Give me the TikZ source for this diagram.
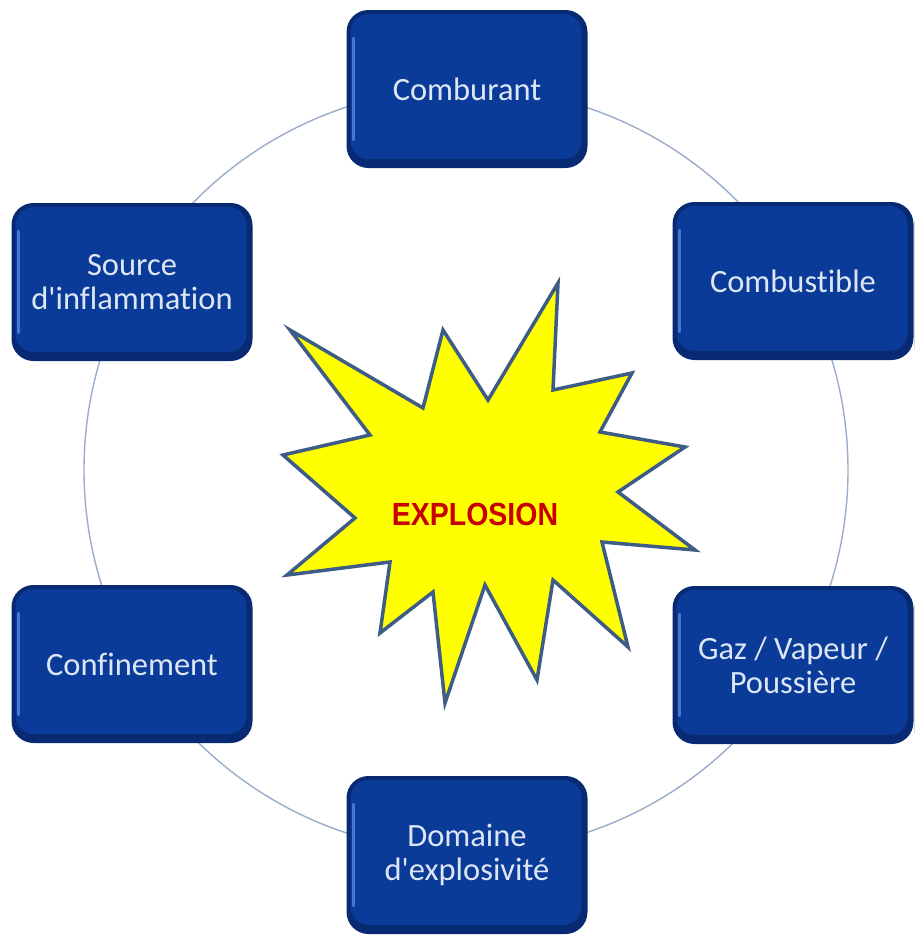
\documentclass[tikz,border=0pt]{standalone}
\usepackage{fontspec}
\usepackage{graphicx}
\usetikzlibrary{backgrounds}
\newfontfamily\boxfont[Ligatures=NoCommon]{Carlito}
\newfontfamily\expfont{Liberation Sans}
\definecolor{boxrim}{HTML}{072A72}
\definecolor{boxblue}{HTML}{0B3B98}
\definecolor{boxhi}{HTML}{4777CC}
\definecolor{boxtext}{HTML}{DCE6F4}
\definecolor{ringcol}{HTML}{9AADCB}
\definecolor{starline}{HTML}{3D5C86}
\definecolor{starfill}{HTML}{FFFF00}
\definecolor{exred}{HTML}{C80000}
\tikzset{
  boxnode/.style={rectangle, rounded corners=22pt, minimum width=241pt, minimum height=158pt,
    fill=boxrim, text=boxtext, align=center, inner sep=0pt,
    font=\boxfont\fontsize{32.5}{34}\selectfont,
    path picture={
      \fill[boxblue, rounded corners=18pt]
        ([shift={(4pt,-4pt)}]path picture bounding box.north west) rectangle
        ([shift={(-6pt,9pt)}]path picture bounding box.south east);
      \draw[boxhi, line width=2.2pt, line cap=round]
        ([shift={(7pt,-28pt)}]path picture bounding box.north west) --
        ([shift={(7pt,28pt)}]path picture bounding box.south west);
    }},
  boxshadow/.style={fill=black!14, rounded corners=22pt},
  ring/.style={draw=ringcol, line width=1.4pt},
  burst/.style={draw=starline, fill=starfill, line width=3.5pt, line join=miter},
}
\begin{document}
\begin{tikzpicture}[x=1pt,y=-1pt]
\useasboundingbox (0,0) rectangle (914,935);
\fill[white] (0,0) rectangle (914,935);
\coordinate (c) at (466,470);
\draw[ring] (c) circle[radius=382];
% boxes
\node[boxnode] (comb) at (467,89) {Comburant};
\node[boxnode] (fuel) at (793,281) {Combustible};
\node[boxnode] (gaz) at (793,665) {Gaz / Vapeur /\\Poussière};
\node[boxnode] (dom) at (467,855) {Domaine\\d'explosivité};
\node[boxnode] (conf) at (132,664) {Confinement};
\node[boxnode] (src) at (132,282) {Source\\d'inflammation};
\begin{scope}[on background layer]
\foreach \n in {comb,fuel,gaz,dom,conf,src}{
  \fill[boxshadow] ([shift={(2,4)}]\n.south west) rectangle ([shift={(2,4)}]\n.north east);
}
\end{scope}
% star
\draw[burst] (290,330) -- (423,408) -- (443,330) -- (488,400) -- (558,283) -- (553,390)
  -- (632,373) -- (600,432) -- (685,447) -- (618,492) -- (695,550) -- (602,542)
  -- (628,647) -- (553,580) -- (537,680) -- (485,585) -- (445,703) -- (433,592)
  -- (380,633) -- (390,562) -- (287,575) -- (355,518) -- (283,455) -- (370,435) -- cycle;
\node[text=exred, font=\expfont\bfseries\fontsize{32}{36}\selectfont, inner sep=0pt] (exp) at (475,514)
  {\scalebox{0.89}[1]{EXPLOSION}};
\end{tikzpicture}
\end{document}
